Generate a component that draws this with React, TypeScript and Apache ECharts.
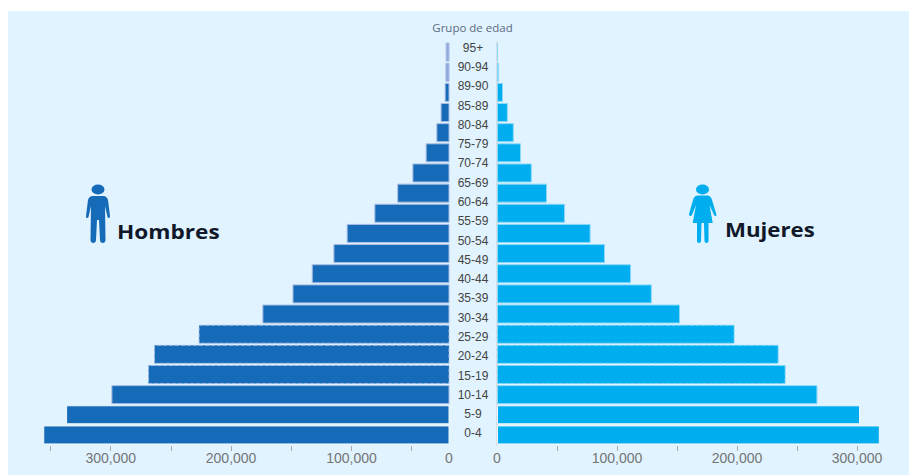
import React, { useEffect, useRef } from "react";
import * as echarts from "echarts";

// Age groups, youngest first, as printed down the centre column.
const ageGroups = ["0-4","5-9","10-14","15-19","20-24","25-29","30-34","35-39","40-44","45-49","50-54","55-59","60-64","65-69","70-74","75-79","80-84","85-89","89-90","90-94","95+"];
const barRows = ageGroups.slice(0, 20);

const hombres = [356000,337000,299400,269000,264000,227000,174000,149000,133000,115000,104000,81000,62000,49400,38400,29500,26000,22600,22000,21800];
const mujeres = [319000,302500,267000,240500,234700,198000,152500,129000,111700,90000,78000,56700,41700,29000,20000,14000,9000,5000,1700,800];

const leftTicks = [50000,100000,150000,200000,250000,300000,350000];
const rightTicks = [50000,100000,150000,200000,250000,300000];
const labelledLeft = [100000,200000,300000];
const labelledRight = [0,100000,200000,300000];

// The men's half starts a little above zero on its own scale; its baseline still reads "0".
const LEFT_MIN = 19000;
const LEFT_MAX = 358700;
const RIGHT_MAX = 320800;

const NAVY = "#156BB8";
const SKY = "#00AEEF";
const PANEL = "#E0F3FF";
const TICK_TEXT = "#757575";

const manPath = "M6.5 5.5 A6.5 5 0 1 1 19.5 5.5 A6.5 5 0 1 1 6.5 5.5 Z M8 12 L18 12 C21 12 22.5 14 23 16 L25 32 C25.3 34 23 35 22.5 33 L20 22 L20.5 56 C20.5 60 15 60 15 56 L14 36 L12 36 L11 56 C11 60 5.5 60 5.5 56 L6 22 L3.5 33 C3 35 0.7 34 1 32 L3 16 C3.5 14 5 12 8 12 Z";
const womanPath = "M7 5.5 A6.5 5 0 1 1 20 5.5 A6.5 5 0 1 1 7 5.5 Z M9 11.5 L18 11.5 C21 11.5 22 13 23 16 L27.3 30 C28 32 26 33 25 31 L20.5 21 L23.7 39 L19.5 39 L19.5 57 C19.5 59.5 15.5 59.5 15.5 57 L15 39 L12.5 39 L12 57 C12 59.5 8 59.5 8 57 L8 39 L3.7 39 L7 21 L3 31 C2 33 -0.3 32 0 30 L4 16 C5 13 6 11.5 9 11.5 Z";

echarts.graphic.registerShape("figuraHombre", echarts.graphic.extendPath(manPath, {}));
echarts.graphic.registerShape("figuraMujer", echarts.graphic.extendPath(womanPath, {}));

// Rows 3-5 carry a dashed edge, the two youngest rows a near-white one,
// and the top rows of each half fade out to a pale tint.
const styleFor = (i: number, fill: string, edge: string, paleFill: string, paleFrom: number) => ({
  color: i >= paleFrom ? paleFill : fill,
  borderColor: i <= 1 ? "#eef7fd" : edge,
  borderWidth: 1,
  borderType: i >= 3 && i <= 5 ? ("dashed" as const) : ("solid" as const),
});

export default function App() {
  const ref = useRef<HTMLDivElement>(null);
  useEffect(() => {
    const chart = echarts.init(ref.current!, undefined, { renderer: "svg" });
    const valueAxisBase = {
      type: "value" as const,
      splitLine: { show: false },
      axisLine: { show: false },
      offset: 1,
      axisTick: { show: true, length: 5, lineStyle: { color: "#a8a8a8", width: 1 } },
    };
    const labelBase = {
      color: TICK_TEXT,
      fontFamily: "Liberation Sans",
      fontSize: 14,
      margin: 5,
      showMinLabel: true,
      showMaxLabel: true,
    };
    chart.setOption({
      animation: false,
      backgroundColor: "#ffffff",
      graphic: [
        { type: "rect", z: -1, shape: { x: 8, y: 11, width: 901, height: 464 }, style: { fill: PANEL } },
        { type: "figuraHombre", x: 85, y: 184, style: { fill: NAVY } },
        { type: "figuraMujer", x: 689, y: 184, style: { fill: SKY } },
        { type: "text", x: 117, y: 231, scaleX: 1.16, style: { text: "Hombres", fill: "#10182a", font: "bold 19.5px 'Open Sans'", textVerticalAlign: "middle" } },
        { type: "text", x: 725, y: 230, scaleX: 1.14, style: { text: "Mujeres", fill: "#10182a", font: "bold 19.5px 'Open Sans'", textVerticalAlign: "middle" } },
        { type: "text", x: 472.5, y: 27.5, style: { text: "Grupo de edad", fill: "#5d6a80", font: "11.5px 'Open Sans'", textAlign: "center", textVerticalAlign: "middle" } },
      ],
      grid: [
        { left: 40, width: 409, top: 42, height: 403 },
        { left: 497, width: 385, top: 42, height: 403 },
        { left: 450, width: 46, top: 38, height: 405 },
      ],
      xAxis: [
        {
          ...valueAxisBase,
          gridIndex: 0,
          inverse: true,
          min: LEFT_MIN,
          max: LEFT_MAX,
          axisTick: { ...valueAxisBase.axisTick, customValues: leftTicks },
          axisLabel: {
            ...labelBase,
            customValues: [LEFT_MIN, ...labelledLeft],
            formatter: (v: number) => (v === LEFT_MIN ? "0" : v.toLocaleString("en-US")),
          },
        },
        {
          ...valueAxisBase,
          gridIndex: 1,
          min: 0,
          max: RIGHT_MAX,
          axisTick: { ...valueAxisBase.axisTick, customValues: rightTicks },
          axisLabel: {
            ...labelBase,
            customValues: labelledRight,
            formatter: (v: number) => v.toLocaleString("en-US"),
          },
        },
        { type: "value", gridIndex: 2, show: false, min: 0, max: 1 },
      ],
      yAxis: [
        { type: "category", gridIndex: 0, data: barRows, show: false },
        {
          type: "category",
          gridIndex: 1,
          data: barRows,
          axisLine: { show: true, lineStyle: { color: "#d3d8dc", width: 1.5 } },
          axisTick: { show: false },
          axisLabel: { show: false },
          offset: 1,
        },
        {
          type: "category",
          gridIndex: 2,
          data: ageGroups,
          position: "left",
          axisLine: { show: false },
          axisTick: { show: false },
          // Negative margin pulls the labels into the gap between the two halves.
          axisLabel: { margin: -23, interval: 0, color: "#444444", fontFamily: "Liberation Sans", fontSize: 12, align: "center" },
        },
      ],
      series: [
        {
          type: "bar",
          xAxisIndex: 0,
          yAxisIndex: 0,
          barWidth: 19,
          data: hombres.map((value, i) => ({ value, itemStyle: styleFor(i, NAVY, "#a9bce2", "#8FA8DC", 18) })),
        },
        {
          type: "bar",
          xAxisIndex: 1,
          yAxisIndex: 1,
          barWidth: 19,
          data: mujeres.map((value, i) => ({ value, itemStyle: styleFor(i, SKY, "#8ad8f8", "#7fd6f8", 18) })),
        },
      ],
    });
    return () => chart.dispose();
  }, []);
  return <div ref={ref} style={{ position: "fixed", left: 0, top: 0, width: 909, height: 475 }} />;
}
